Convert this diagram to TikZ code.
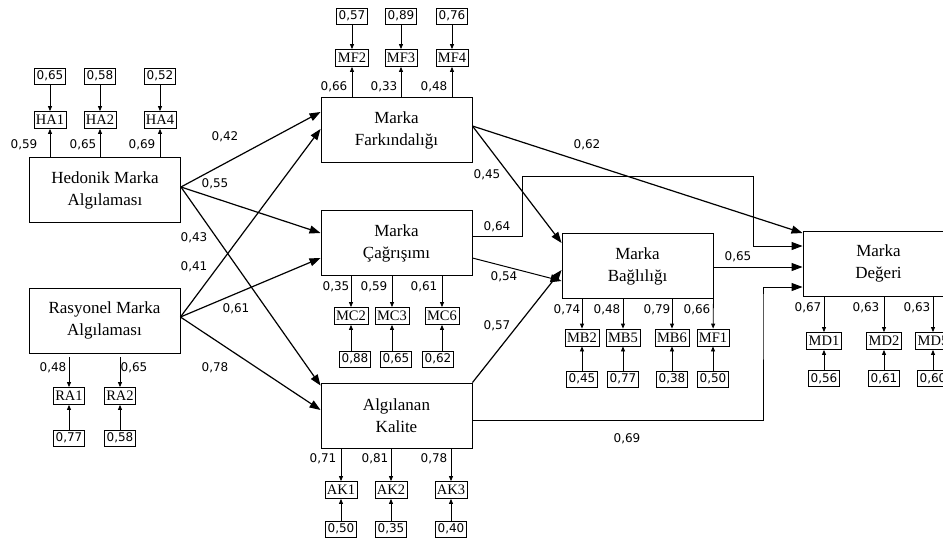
\documentclass[tikz,border=0pt]{standalone}
\usepackage{fontspec}
\setmainfont{Liberation Serif}
\newfontfamily\numfont{DejaVu Sans}
\usetikzlibrary{arrows.meta}
\begin{document}
\begin{tikzpicture}[x=1pt,y=-1pt,
 lat/.style={draw, line width=0.9pt, minimum width=151pt, minimum height=65pt, align=center, font=\fontsize{17}{22}\selectfont, inner sep=0pt},
 ind/.style={draw, line width=0.8pt, inner xsep=2pt, inner ysep=1pt, minimum height=17pt, font=\fontsize{14.5}{14.5}\selectfont},
 err/.style={draw, line width=0.8pt, inner xsep=2.5pt, inner ysep=1pt, minimum height=16pt, font=\numfont\fontsize{12}{12}\selectfont},
 num/.style={font=\numfont\fontsize{12}{12}\selectfont, inner sep=0pt},
 sarr/.style={line width=1.2pt, -{Triangle[length=11pt,width=8pt]}},
 parr/.style={line width=1pt, -{Triangle[length=11pt,width=8pt]}},
 marr/.style={line width=0.8pt, -{Triangle[length=5pt,width=4pt]}}]
\useasboundingbox (0,0) rectangle (943,542);
\clip (0,0) rectangle (943,542);
\fill[white] (0,0) rectangle (943,542);

% latent constructs
\node[lat] (hed) at (105,190) {Hedonik Marka\\Algılaması};
\node[lat] (ras) at (104.5,320.5) {Rasyonel Marka\\Algılaması};
\node[lat] (mf) at (396.5,130) {Marka\\Farkındalığı};
\node[lat] (mc) at (396.5,243) {Marka\\Çağrışımı};
\node[lat] (ak) at (396.5,415.5) {Algılanan\\Kalite};
\node[lat] (mb) at (637.5,266) {Marka\\Bağlılığı};
\node[lat] (md) at (878.5,263.5) {Marka\\Değeri};

% Hedonik indicators
\node[ind] (ha1) at (50,120) {HA1};
\node[ind] (ha2) at (100,120) {HA2};
\node[ind] (ha4) at (160,120) {HA4};
\node[err] (eha1) at (50,76) {0,65};
\node[err] (eha2) at (100,76) {0,58};
\node[err] (eha4) at (160,76) {0,52};
\draw[marr] (eha1) -- (ha1);
\draw[marr] (eha2) -- (ha2);
\draw[marr] (eha4) -- (ha4);
\draw[marr] (hed.north -| ha1) -- (ha1);
\draw[marr] (hed.north -| ha2) -- (ha2);
\draw[marr] (hed.north -| ha4) -- (ha4);
\node[num] (lha1) at (24,145) {0,59};
\node[num] (lha2) at (83,145) {0,65};
\node[num] (lha4) at (142,145) {0,69};

% Rasyonel indicators
\node[ind] (ra1) at (69,396) {RA1};
\node[ind] (ra2) at (120,396) {RA2};
\node[err] (era1) at (69,438) {0,77};
\node[err] (era2) at (120,438) {0,58};
\draw[marr, shorten <=4pt] (ras.south -| ra1) -- (ra1);
\draw[marr, shorten <=4pt] (ras.south -| ra2) -- (ra2);
\draw[marr] (era1) -- (ra1);
\draw[marr] (era2) -- (ra2);
\node[num] (lra1) at (53,368) {0,48};
\node[num] (lra2) at (134,368) {0,65};

% Marka Farkindaligi indicators
\node[ind] (mf2) at (352,58) {MF2};
\node[ind] (mf3) at (401,58) {MF3};
\node[ind] (mf4) at (452,58) {MF4};
\node[err] (emf2) at (352,16) {0,57};
\node[err] (emf3) at (401,16) {0,89};
\node[err] (emf4) at (452,16) {0,76};
\draw[marr] (emf2) -- (mf2);
\draw[marr] (emf3) -- (mf3);
\draw[marr] (emf4) -- (mf4);
\draw[marr] (mf.north -| mf2) -- (mf2);
\draw[marr] (mf.north -| mf3) -- (mf3);
\draw[marr] (mf.north -| mf4) -- (mf4);
\node[num] (lmf2) at (334,87) {0,66};
\node[num] (lmf3) at (384,87) {0,33};
\node[num] (lmf4) at (434,87) {0,48};

% Marka Cagrisimi indicators
\node[ind] (mc2) at (351,316) {MC2};
\node[ind] (mc3) at (392,316) {MC3};
\node[ind] (mc6) at (442,316) {MC6};
\node[err] (emc2) at (355,359) {0,88};
\node[err] (emc3) at (396,359) {0,65};
\node[err] (emc6) at (438,359) {0,62};
\draw[marr] (mc.south -| mc2) -- (mc2);
\draw[marr] (mc.south -| mc3) -- (mc3);
\draw[marr] (mc.south -| mc6) -- (mc6);
\draw[marr] (emc2.north -| mc2) -- (mc2);
\draw[marr] (emc3.north -| mc3) -- (mc3);
\draw[marr] (emc6.north -| mc6) -- (mc6);
\node[num] (lmc2) at (336,287) {0,35};
\node[num] (lmc3) at (374,287) {0,59};
\node[num] (lmc6) at (424,287) {0,61};

% Algilanan Kalite indicators
\node[ind] (ak1) at (341,490) {AK1};
\node[ind] (ak2) at (391,490) {AK2};
\node[ind] (ak3) at (451,490) {AK3};
\node[err] (eak1) at (341,529) {0,50};
\node[err] (eak2) at (391,529) {0,35};
\node[err] (eak3) at (451,529) {0,40};
\draw[marr] (ak.south -| ak1) -- (ak1);
\draw[marr] (ak.south -| ak2) -- (ak2);
\draw[marr] (ak.south -| ak3) -- (ak3);
\draw[marr] (eak1) -- (ak1);
\draw[marr] (eak2) -- (ak2);
\draw[marr] (eak3) -- (ak3);
\node[num] (lak1) at (323,459) {0,71};
\node[num] (lak2) at (375,459) {0,81};
\node[num] (lak3) at (434,459) {0,78};

% Marka Bagliligi indicators
\node[ind] (mb2) at (582,337.5) {MB2};
\node[ind] (mb5) at (623,337.5) {MB5};
\node[ind] (mb6) at (672,337.5) {MB6};
\node[ind] (mf1) at (713,337.5) {MF1};
\node[err] (emb2) at (582,379) {0,45};
\node[err] (emb5) at (623,379) {0,77};
\node[err] (emb6) at (672,379) {0,38};
\node[err] (emf1) at (713,379) {0,50};
\draw[marr] (mb.south -| mb2) -- (mb2);
\draw[marr] (mb.south -| mb5) -- (mb5);
\draw[marr] (mb.south -| mb6) -- (mb6);
\draw[marr] (mb.south east) -- (mf1);
\draw[marr] (emb2) -- (mb2);
\draw[marr] (emb5) -- (mb5);
\draw[marr] (emb6) -- (mb6);
\draw[marr] (emf1) -- (mf1);
\node[num] (lmb2) at (567,310) {0,74};
\node[num] (lmb5) at (607,310) {0,48};
\node[num] (lmb6) at (657,310) {0,79};
\node[num] (lmf1) at (697,310) {0,66};

% Marka Degeri indicators
\node[ind] (md1) at (824,341) {MD1};
\node[ind] (md2) at (884,341) {MD2};
\node[ind] (md5) at (933,341) {MD5};
\node[err] (emd1) at (824,378.5) {0,56};
\node[err] (emd2) at (884,378.5) {0,61};
\node[err] (emd5) at (933,378.5) {0,60};
\draw[marr] (md.south -| md1) -- (md1);
\draw[marr] (md.south -| md2) -- (md2);
\draw[marr] (md.south -| md5) -- (md5);
\draw[marr] (emd1) -- (md1);
\draw[marr] (emd2) -- (md2);
\draw[marr] (emd5) -- (md5);
\node[num] (lmd1) at (808,308) {0,67};
\node[num] (lmd2) at (866,308) {0,63};
\node[num] (lmd5) at (917,308) {0,63};

% structural paths
\draw[sarr] ([yshift=3pt]hed.east) -- ([yshift=18pt]mf.west);
\draw[sarr] ([yshift=3pt]hed.east) -- ([yshift=10pt]mc.west);
\draw[sarr] ([yshift=3pt]hed.east) -- ([yshift=-3pt]ak.north west);
\draw[sarr] ([yshift=3.5pt]ras.east) -- ([yshift=1pt]mf.west);
\draw[sarr] ([yshift=3.5pt]ras.east) -- ([yshift=-15pt]mc.west);
\draw[sarr] ([yshift=3.5pt]ras.east) -- ([yshift=5.5pt]ak.west);
\draw[sarr] ([yshift=4pt]mf.east) -- ([yshift=23pt]mb.west);
\draw[sarr] ([yshift=4pt]mf.east) -- ([yshift=30.5pt]md.west);
\draw[parr] ([yshift=-15pt]mc.east) -- ([yshift=-15pt]mb.west);
\draw[sarr] (ak.north east) -- ([yshift=-4pt]mb.west);
\draw[parr] ([yshift=-1pt]mb.east) -- ([yshift=-3.5pt]md.west);
\coordinate (k1) at (522,176);
\coordinate (k2) at (753,176);
\coordinate (k3) at (763,300);
\draw[parr] ([yshift=7pt]mc.east) -| (k1) -- (k2) |- ([yshift=17.5pt]md.west);
\draw[parr] ([yshift=-4.5pt]ak.east) -| (k3) |- ([yshift=-23.5pt]md.west);

% path coefficients
\node[num] (p1) at (225,137) {0,42};
\node[num] (p2) at (215,184) {0,55};
\node[num] (p3) at (194,238) {0,43};
\node[num] (p4) at (194,267) {0,41};
\node[num] (p5) at (236,309) {0,61};
\node[num] (p6) at (215,368) {0,78};
\node[num] (p7) at (487,175) {0,45};
\node[num] (p8) at (587,145) {0,62};
\node[num] (p9) at (497,227) {0,64};
\node[num] (p10) at (504,277) {0,54};
\node[num] (p11) at (497,326) {0,57};
\node[num] (p12) at (738,257) {0,65};
\node[num] (p13) at (627,439) {0,69};
\end{tikzpicture}
\end{document}
